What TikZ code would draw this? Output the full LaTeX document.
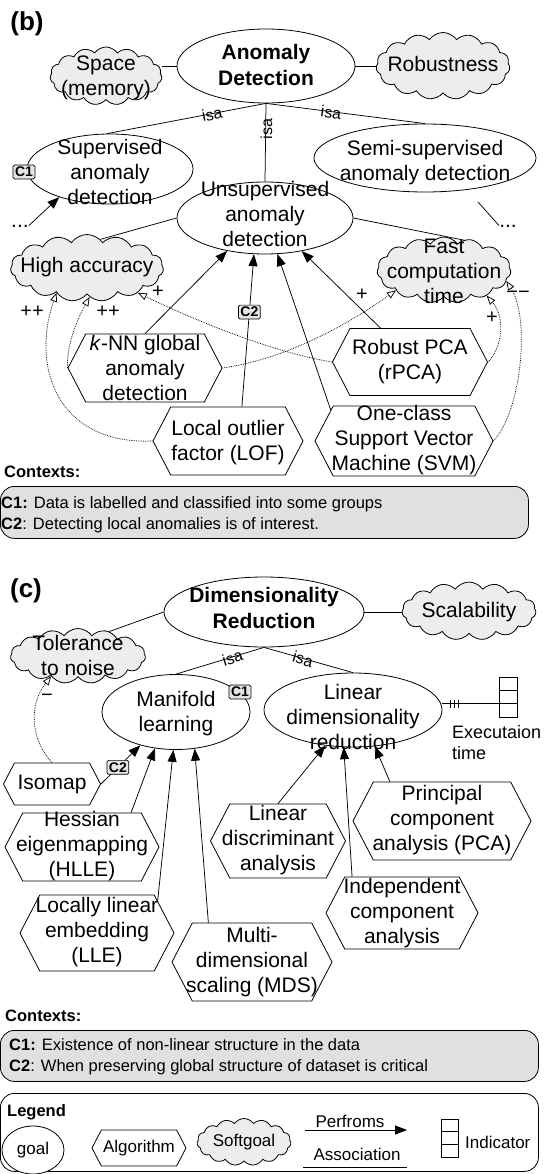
\documentclass[tikz,border=0pt]{standalone}
\usepackage{fontspec}
\setmainfont{Liberation Sans}
\usetikzlibrary{shapes.geometric,shapes.symbols,arrows.meta,calc}
\definecolor{cloudgray}{gray}{0.93}
\definecolor{ctxgray}{gray}{0.88}
\definecolor{cboxgray}{gray}{0.9}
\tikzset{
 goal/.style={draw, ellipse, line width=0.8pt, fill=white, inner sep=0pt},
 hexa/.style={draw, signal, signal to=east and west, signal pointer angle=125, line width=0.8pt, fill=white, inner sep=0pt},
 soft/.style={draw, cloud, cloud puffs=15, cloud puff arc=110, cloud ignores aspect, line width=0.8pt, fill=cloudgray, inner sep=0pt},
 lbl/.style={align=center, inner sep=0pt, font=\fontsize{21}{25}\selectfont},
 lblb/.style={align=center, inner sep=0pt, font=\bfseries\fontsize{21}{26}\selectfont},
 cbox/.style={draw, fill=cboxgray, rounded corners=1.5pt, inner sep=2pt, line width=0.7pt, font=\bfseries\fontsize{14}{14}\selectfont},
 perf/.style={line width=0.75pt, -{Triangle[length=12pt,width=9pt]}},
 contrib/.style={densely dotted, line width=0.75pt, -{Triangle[open,length=9pt,width=7pt,fill=white]}},
 assoc/.style={line width=0.75pt},
 isa/.style={font=\fontsize{16}{16}\selectfont, sloped, inner sep=0pt},
 contriblbl/.style={font=\fontsize{20}{20}\selectfont, inner sep=0pt},
 ctxhead/.style={font=\bfseries\fontsize{16.5}{20}\selectfont, anchor=west, inner sep=0pt},
 ctxtext/.style={font=\fontsize{16.5}{21}\selectfont, align=left, anchor=west, inner sep=0pt},
 panel/.style={font=\bfseries\fontsize{26}{26}\selectfont, inner sep=0pt},
 ctxbg/.style={draw, fill=ctxgray, rounded corners=14pt, line width=0.8pt, anchor=north west, inner sep=0pt},
 legtxt/.style={font=\fontsize{17}{20}\selectfont, inner sep=0pt},
}
\begin{document}
\begin{tikzpicture}[x=1pt,y=-1pt]
\useasboundingbox (0,0) rectangle (543,1174);
% ---------------- panel (b) ----------------
\node[panel] (pb) at (27,24) {(b)};
\node[goal, minimum width=178pt, minimum height=74pt] (ad) at (266,66) {};
\node[soft, minimum width=112pt, minimum height=58pt] (sp) at (106,76) {};
\node[soft, minimum width=134pt, minimum height=67pt] (rob) at (443,66) {};
\node[goal, minimum width=166pt, minimum height=70pt] (sup) at (110,169) {};
\node[goal, minimum width=222pt, minimum height=68pt] (semi) at (425,158) {};
\node[goal, minimum width=176pt, minimum height=72pt] (uns) at (265,218) {};
\node[soft, minimum width=153pt, minimum height=67pt] (ha) at (87,268) {};
\node[soft, minimum width=134pt, minimum height=66pt] (fast) at (444,270) {};
\node[hexa, minimum width=154pt, minimum height=68pt] (knn) at (145,368) {};
\node[hexa, minimum width=150pt, minimum height=68pt] (lof) at (228,441) {};
\node[hexa, minimum width=155pt, minimum height=67pt] (rpca) at (410,362) {};
\node[hexa, minimum width=178pt, minimum height=70pt] (svm) at (404,441) {};
\node[lbl, anchor=base] (dl) at (20,228) {...};
\node[lbl, anchor=base] (dr) at (508,228) {...};
\node[cbox] (c1b) at (24,172) {C1};

\draw[assoc] (ad.west) -- (ad.west -| sp.east);
\draw[assoc] (ad.east) -- (ad.east -| rob.west);
\draw[assoc] (ad.south) -- node[isa, pos=0.34, above=-7pt]{isa} (sup.95);
\draw[assoc] (ad.south) -- node[isa, pos=0.33, above=-7pt]{isa} (uns.north);
\draw[assoc] (ad.south) -- node[isa, pos=0.41, above=-7pt]{isa} (semi.north);
\draw[perf] (dl.north east) -- (sup.209);
\coordinate (semiEnd) at (478,202);
\draw[assoc] (semiEnd) -- (dr.north west);
\draw[assoc] (uns.west) -- (ha.65);
\draw[assoc] (uns.east) -- (fast.57);
\draw[perf] (knn.north) -- (uns.221);
\draw[perf] (lof.68) -- node[cbox, pos=0.62] (c2b) {C2} (uns.253);
\draw[perf] (svm.157) -- (uns.289);
\draw[perf] (rpca.131) -- (uns.318);
\draw[contrib] (lof.west) .. controls (60,445) and (30,370) .. (ha.219);
\draw[contrib] (knn.west) .. controls (66,345) and (78,318) .. (ha.275);
\draw[contrib] (rpca.west) .. controls (270,352) and (190,318) .. (ha.334);
\draw[contrib] (knn.east) .. controls (280,360) and (340,330) .. (fast.203);
\draw[contrib] (rpca.east) .. controls (502,348) and (506,318) .. (fast.329);
\draw[contrib] (svm.east) .. controls (522,410) and (530,318) .. (fast.350);
\node[contriblbl] (pp1) at (32,312) {++};
\node[contriblbl] (pp2) at (108,312) {++};
\node[contriblbl] (p3) at (158,292) {+};
\node[contriblbl] (p4) at (362,295) {+};
\node[contriblbl] (p5) at (492,318) {+};
\node[contriblbl] (mm6) at (518,295) {−−};

\node[lblb] (adT) at (266,65) {Anomaly\\Detection};
\node[lbl] (spT) at (106,78) {Space\\(memory)};
\node[lbl] (robT) at (443,64) {Robustness};
\node[lbl] (supT) at (110,172) {Supervised\\anomaly\\detection};
\node[lbl] (semiT) at (425,163) {Semi-supervised\\anomaly detection};
\node[lbl] (unsT) at (265,214) {Unsupervised\\anomaly\\detection};
\node[lbl] (haT) at (87,267) {High accuracy};
\node[lbl] (fastT) at (444,271) {Fast\\computation\\time};
\node[lbl] (knnT) at (145,368) {\textit{k}-NN global\\anomaly\\detection};
\node[lbl] (lofT) at (228,443) {Local outlier\\factor (LOF)};
\node[lbl] (rpcaT) at (410,362) {Robust PCA\\(rPCA)};
\node[lbl] (svmT) at (404,440) {One-class\\Support Vector\\Machine (SVM)};

\node[ctxhead] (ctxb) at (4,472) {Contexts:};
\node[ctxbg, minimum width=528pt, minimum height=52pt] (ctxbgb) at (0,486) {};
\node[ctxtext] (ctxtb) at (1,515) {\textbf{C1:} Data is labelled and classified into some groups\\\textbf{C2}: Detecting local anomalies is of interest.};

% ---------------- panel (c) ----------------
\node[panel] (pc) at (26,591) {(c)};
\node[goal, minimum width=200pt, minimum height=70pt] (dred) at (264,612) {};
\node[soft, minimum width=134pt, minimum height=58pt] (scal) at (469,611) {};
\node[soft, minimum width=135pt, minimum height=55pt] (tol) at (78,656) {};
\node[goal, minimum width=148pt, minimum height=75pt] (man) at (176,712) {};
\node[goal, minimum width=178pt, minimum height=74pt] (lin) at (353,710) {};
\node[draw, line width=0.8pt, minimum width=18pt, minimum height=40pt, inner sep=0pt] (ind) at (508,697) {};
\draw[line width=0.8pt] ($(ind.north west)!1/3!(ind.south west)$) -- ($(ind.north east)!1/3!(ind.south east)$);
\draw[line width=0.8pt] ($(ind.north west)!2/3!(ind.south west)$) -- ($(ind.north east)!2/3!(ind.south east)$);
\node[hexa, minimum width=97pt, minimum height=42pt] (iso) at (52,784) {};
\node[hexa, minimum width=154pt, minimum height=68pt] (hess) at (82,847) {};
\node[hexa, minimum width=154pt, minimum height=76pt] (lle) at (97,933) {};
\node[hexa, minimum width=160pt, minimum height=78pt] (mds) at (252,962) {};
\node[hexa, minimum width=135pt, minimum height=74pt] (lda) at (278,841) {};
\node[hexa, minimum width=178pt, minimum height=78pt] (pca) at (442,821) {};
\node[hexa, minimum width=152pt, minimum height=72pt] (ica) at (402,913) {};
\node[cbox] (c1c) at (240,692) {C1};

\draw[assoc] (dred.west) -- (tol.38);
\draw[assoc] (dred.east) -- (dred.east -| scal.west);
\draw[assoc] (dred.south) -- node[isa, pos=0.36, above=-7pt]{isa} (man.north);
\draw[assoc] (dred.south) -- node[isa, pos=0.44, above=-7pt]{isa} (lin.north);
\coordinate (inddiv) at ($(ind.north west)!2/3!(ind.south west)$);
\draw[assoc] (inddiv) -- (inddiv -| lin.east);
\foreach \dx in {8,12,16} \draw[line width=0.6pt] ($(inddiv -| lin.east)+(\dx,-4)$) -- ++(0,8);
\draw[perf] (iso.east) -- node[cbox, pos=0.43] (c2c) {C2} (man.223);
\draw[perf] (hess.35) -- (man.240);
\draw[perf] (lle.28) -- (man.266);
\draw[perf] (mds.138) -- (man.297);
\draw[perf] (lda.north) -- (lin.232);
\draw[perf] (ica.144) -- (lin.256);
\draw[perf] (pca.143) -- (lin.301);
\draw[contrib] (iso.north) .. controls (35,745) and (25,710) .. (tol.217);
\node[contriblbl] (mtol) at (47,698) {−};

\node[lblb] (dredT) at (264,608) {Dimensionality\\Reduction};
\node[lbl] (scalT) at (469,612) {Scalability};
\node[lbl] (tolT) at (78,655) {Tolerance\\to noise};
\node[lbl] (manT) at (176,714) {Manifold\\learning};
\node[lbl] (linT) at (353,717) {Linear\\dimensionality\\reduction};
\node[font=\fontsize{18}{21}\selectfont, align=left, anchor=north west, inner sep=0pt] (exT) at (452,725) {Executaion\\time};
\node[lbl] (isoT) at (52,784) {Isomap};
\node[lbl] (hessT) at (82,846) {Hessian\\eigenmapping\\(HLLE)};
\node[lbl] (lleT) at (97,932) {Locally linear\\embedding\\(LLE)};
\node[lbl] (mdsT) at (252,962) {Multi-\\dimensional\\scaling (MDS)};
\node[lbl] (ldaT) at (278,840) {Linear\\discriminant\\analysis};
\node[lbl] (pcaT) at (442,820) {Principal\\component\\analysis (PCA)};
\node[lbl] (icaT) at (402,913) {Independent\\component\\analysis};

\node[ctxhead] (ctxc) at (5,1016) {Contexts:};
\node[ctxbg, minimum width=538pt, minimum height=51pt] (ctxbgc) at (0,1030) {};
\node[ctxtext] (ctxtc) at (9,1057) {\textbf{C1:} Existence of non-linear structure in the data\\\textbf{C2}: When preserving global structure of dataset is critical};

% ---------------- legend ----------------
\node[draw, rounded corners=14pt, line width=0.8pt, anchor=north west, minimum width=538pt, minimum height=78pt, inner sep=0pt] (leg) at (0,1093) {};
\node[ctxhead] (legT) at (7,1112) {Legend};
\node[goal, minimum width=62pt, minimum height=48pt] (lgoal) at (33,1150) {};
\node[legtxt] (lgoalT) at (33,1150) {goal};
\node[hexa, minimum width=94pt, minimum height=36pt] (lalg) at (139,1148) {};
\node[legtxt] (lalgT) at (139,1148) {Algorithm};
\node[soft, minimum width=94pt, minimum height=47pt] (lsoft) at (244,1142) {};
\node[legtxt] (lsoftT) at (244,1142) {Softgoal};
\coordinate (pfA) at (305,1130);
\coordinate (pfB) at (407,1130);
\draw[perf] (pfA) -- (pfB);
\node[legtxt, anchor=base] (pfT) at (350,1127) {Perfroms};
\coordinate (asA) at (303,1167);
\coordinate (asB) at (407,1167);
\draw[assoc] (asA) -- (asB);
\node[legtxt, anchor=base] (asT) at (357,1160) {Association};
\node[draw, line width=0.8pt, minimum width=17pt, minimum height=38pt, inner sep=0pt] (lind) at (450,1138) {};
\draw[line width=0.8pt] ($(lind.north west)!1/3!(lind.south west)$) -- ($(lind.north east)!1/3!(lind.south east)$);
\draw[line width=0.8pt] ($(lind.north west)!2/3!(lind.south west)$) -- ($(lind.north east)!2/3!(lind.south east)$);
\node[legtxt, anchor=west] (lindT) at (465,1142) {Indicator};
\end{tikzpicture}
\end{document}
